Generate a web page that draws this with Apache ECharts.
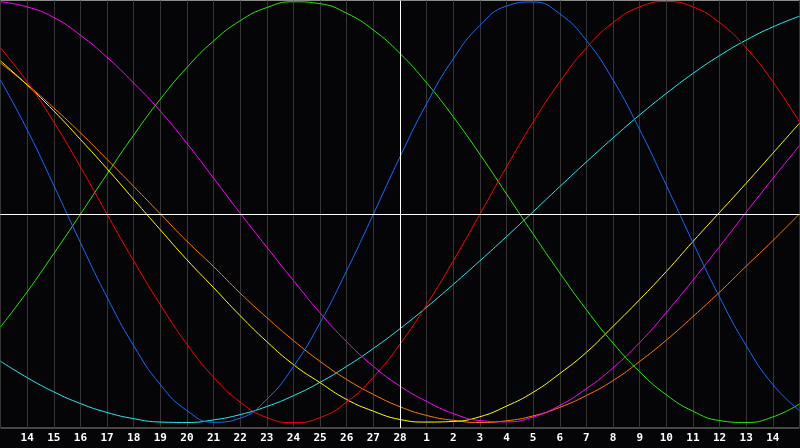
<!DOCTYPE html>
<html>
<head>
<meta charset="utf-8">
<script src="https://cdn.jsdelivr.net/npm/echarts@6/dist/echarts.min.js"></script>
<style>
html,body{margin:0;padding:0;background:#050407;}
#chart{width:800px;height:448px;}
</style>
</head>
<body>
<div id="chart"></div>
<script>
// Day labels (13 Feb .. 15 Mar); today = 28
var dayLabels = ['13','14','15','16','17','18','19','20','21','22','23','24','25','26','27','28','1','2','3','4','5','6','7','8','9','10','11','12','13','14','15'];

var physical = [0.631,0.398,0.136,-0.133,-0.390,-0.618,-0.801,-0.923,-0.978,-0.959,-0.870,-0.716,-0.510,-0.265,0,0.270,0.520,0.731,0.888,0.979,0.998,0.942,0.817,0.631,0.398,0.136,-0.133,-0.390,-0.618,-0.801,-0.923];
var emotional = [0.782,0.623,0.434,0.223,0,-0.219,-0.425,-0.611,-0.766,-0.883,-0.956,-0.980,-0.956,-0.883,-0.766,-0.611,-0.425,-0.219,0,0.223,0.434,0.623,0.782,0.901,0.975,1.0,0.975,0.901,0.782,0.623,0.434];
var intellectual = [-0.530,-0.365,-0.185,0,0.189,0.372,0.541,0.690,0.815,0.910,0.972,0.999,0.990,0.945,0.866,0.756,0.618,0.458,0.282,0.095,-0.093,-0.276,-0.449,-0.606,-0.741,-0.849,-0.926,-0.970,-0.979,-0.953,-0.892];
var intuitive = [0.999,0.975,0.925,0.842,0.738,0.617,0.485,0.333,0.170,0.005,-0.155,-0.312,-0.464,-0.600,-0.715,-0.808,-0.880,-0.937,-0.970,-0.976,-0.953,-0.899,-0.820,-0.722,-0.603,-0.462,-0.310,-0.152,0.010,0.168,0.323];
var aesthetic = [0.721,0.608,0.486,0.352,0.214,0.070,-0.073,-0.214,-0.345,-0.477,-0.599,-0.707,-0.792,-0.871,-0.926,-0.965,-0.977,-0.974,-0.952,-0.902,-0.837,-0.749,-0.649,-0.527,-0.401,-0.269,-0.128,0.009,0.146,0.287,0.428];
var awareness = [0.711,0.610,0.500,0.383,0.258,0.131,0.002,-0.127,-0.246,-0.371,-0.486,-0.594,-0.692,-0.777,-0.847,-0.905,-0.946,-0.969,-0.979,-0.971,-0.948,-0.908,-0.852,-0.782,-0.692,-0.592,-0.481,-0.366,-0.244,-0.124,0.002];
var spiritual = [-0.691,-0.768,-0.835,-0.890,-0.932,-0.961,-0.977,-0.979,-0.967,-0.942,-0.904,-0.853,-0.790,-0.715,-0.631,-0.538,-0.437,-0.330,-0.219,-0.105,0.012,0.130,0.246,0.359,0.467,0.568,0.662,0.746,0.819,0.881,0.931];

var todayIndex = 15;

function pts(arr){ return arr.map(function(v,i){ return [i, v]; }); }
function line(name, arr, color){
  return {name:name, type:'line', data:pts(arr), smooth:true, showSymbol:false, symbol:'none',
    lineStyle:{color:color, width:1}, itemStyle:{color:color}, silent:true, z:3};
}

var chart = echarts.init(document.getElementById('chart'), null, {renderer:'canvas'});
chart.setOption({
  animation:false,
  backgroundColor:'#050407',
  grid:{left:0.5, right:0.5, top:0.5, bottom:20, show:true, borderColor:'#8a8a8a', borderWidth:1, backgroundColor:'transparent'},
  xAxis:{
    type:'value', min:0, max:dayLabels.length-1, interval:1,
    axisLine:{show:true, lineStyle:{color:'#9a9a9a', width:1}},
    axisTick:{show:false},
    splitLine:{show:true, lineStyle:{color:'#353535', width:1}},
    axisLabel:{
      color:'#ffffff', fontFamily:'DejaVu Sans Mono', fontWeight:'bold', fontSize:11, margin:5,
      formatter:function(v){ var i=Math.round(v); if(i<=0||i>=dayLabels.length-1) return ''; return dayLabels[i]; },
      showMinLabel:false, showMaxLabel:false
    }
  },
  yAxis:{
    type:'value', min:-1.005, max:1.005,
    show:false, splitLine:{show:false}
  },
  series:[
    line('Spiritual', spiritual, '#22eeee'),
    line('Awareness', awareness, '#ff7a00'),
    line('Aesthetic', aesthetic, '#ffff00'),
    line('Intuitive', intuitive, '#ff00ff'),
    line('Intellectual', intellectual, '#22ee00'),
    line('Emotional', emotional, '#ff0000'),
    line('Physical', physical, '#1a6bff'),
    {type:'line', data:[], silent:true, z:2,
      markLine:{silent:true, symbol:['none','none'], label:{show:false},
        lineStyle:{color:'#ffffff', width:1, type:'solid'},
        data:[{xAxis:todayIndex},{yAxis:0}]}}
  ]
});
</script>
</body>
</html>
